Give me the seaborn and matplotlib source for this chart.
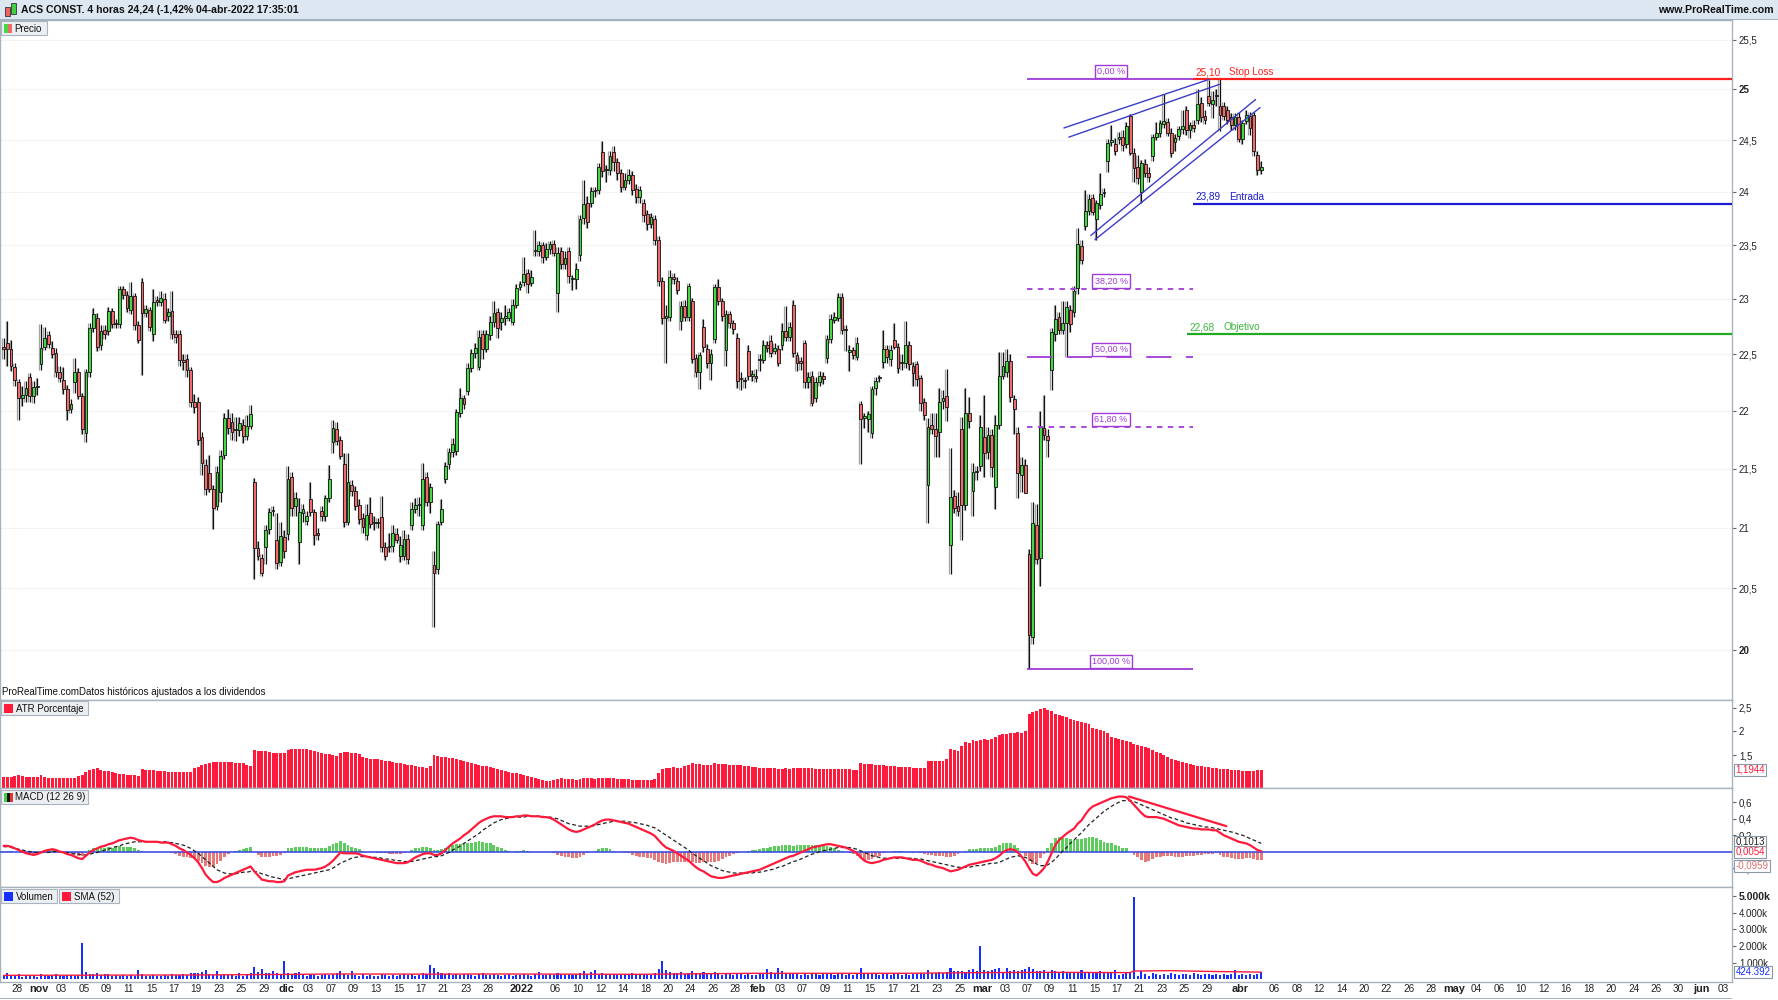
import numpy as np
import seaborn as sns
import matplotlib.pyplot as plt
from matplotlib.patches import Rectangle
from matplotlib.ticker import NullLocator

# ---------------- data (4 hour bars, ACS, 26-oct-2021 .. 04-abr-2022) ----------------
opens = [
    22.56, 22.60, 22.55, 22.39, 22.25, 22.11, 22.14, 22.30, 22.13, 22.21,
    22.41, 22.57, 22.67, 22.56, 22.51, 22.34, 22.27, 22.19, 22.02, 22.25,
    22.34, 22.13, 21.81, 22.34, 22.74, 22.83, 22.58, 22.72, 22.71, 22.89,
    22.78, 22.77, 23.09, 23.04, 22.90, 23.03, 22.76, 23.16, 22.87, 22.90,
    22.68, 22.99, 22.97, 23.00, 22.85, 22.89, 22.68, 22.68, 22.45, 22.46,
    22.36, 22.08, 22.08, 21.77, 21.53, 21.46, 21.33, 21.18, 21.30, 21.62,
    21.94, 21.90, 21.83, 21.83, 21.88, 21.78, 21.87, 21.39, 20.83, 20.75,
    20.84, 20.99, 21.14, 20.90, 20.72, 20.92, 20.95, 21.43, 21.18, 20.88,
    21.12, 21.06, 21.24, 21.13, 20.96, 21.14, 21.10, 21.25, 21.73, 21.84,
    21.75, 21.54, 21.05, 21.36, 21.31, 21.19, 21.08, 20.94, 21.12, 21.04,
    21.04, 21.09, 20.84, 20.84, 20.85, 20.95, 20.77, 20.77, 20.91, 21.02,
    21.16, 21.19, 21.02, 21.43, 21.22, 20.69, 20.66, 21.05, 21.41, 21.54,
    21.64, 21.65, 21.98, 22.11, 22.17, 22.38, 22.51, 22.39, 22.68, 22.55,
    22.67, 22.79, 22.88, 22.79, 22.83, 22.83, 22.79, 22.95, 23.11, 23.16,
    23.24, 23.15, 23.44, 23.44, 23.50, 23.39, 23.46, 23.51, 23.06, 23.44,
    23.32, 23.44, 23.18, 23.18, 23.41, 23.75, 23.90, 23.90, 24.01, 24.02,
    24.39, 24.21, 24.21, 24.39, 24.29, 24.18, 24.05, 24.12, 24.16, 24.03,
    23.95, 23.90, 23.79, 23.70, 23.74, 23.55, 23.17, 22.83, 22.84, 23.20,
    23.17, 22.80, 22.94, 22.84, 22.98, 22.47, 22.34, 22.75, 22.55, 22.42,
    22.64, 23.11, 22.98, 22.54, 22.86, 22.78, 22.65, 22.28, 22.27, 22.53,
    22.31, 22.31, 22.45, 22.45, 22.58, 22.62, 22.53, 22.55, 22.58, 22.71,
    22.66, 22.95, 22.49, 22.44, 22.60, 22.25, 22.31, 22.11, 22.25, 22.31,
    22.47, 22.64, 22.81, 22.83, 23.02, 22.72, 22.52, 22.54, 22.48, 22.06,
    21.94, 21.93, 21.81, 22.20, 22.29, 22.43, 22.55, 22.46, 22.63, 22.57,
    22.42, 22.42, 22.58, 22.40, 22.41, 22.29, 22.08, 21.36, 21.88, 21.84,
    21.82, 22.09, 22.13, 20.86, 21.27, 21.18, 21.84, 21.19, 21.98, 21.31,
    21.47, 21.52, 21.77, 21.64, 21.79, 21.34, 21.88, 22.31, 22.34, 22.44,
    22.10, 21.81, 21.45, 21.53, 20.78, 20.11, 21.02, 20.75, 21.85, 21.78,
    22.36, 22.68, 22.84, 22.72, 22.78, 22.90, 22.88, 23.10, 23.49, 23.68,
    23.82, 23.94, 23.74, 23.88, 23.99, 24.30, 24.48, 24.46, 24.51, 24.53,
    24.46, 24.74, 24.38, 24.24, 24.00, 24.27, 24.18, 24.35, 24.53, 24.57,
    24.66, 24.68, 24.57, 24.48, 24.54, 24.61, 24.80, 24.60, 24.65, 24.70,
    24.87, 24.74, 24.93, 24.86, 24.93, 24.84, 24.84, 24.80, 24.73, 24.65,
    24.73, 24.51, 24.69, 24.74, 24.75, 24.36, 24.21,
]
highs = [
    22.65, 22.80, 22.63, 22.42, 22.28, 22.22, 22.26, 22.33, 22.26, 22.29,
    22.77, 22.75, 22.71, 22.62, 22.56, 22.40, 22.39, 22.23, 22.10, 22.47,
    22.38, 22.16, 22.37, 22.78, 22.92, 22.87, 22.76, 22.76, 22.93, 22.92,
    22.82, 23.12, 23.12, 23.07, 23.16, 23.06, 22.80, 23.19, 22.95, 22.93,
    23.09, 23.03, 23.07, 23.06, 22.92, 23.07, 22.72, 22.72, 22.50, 22.50,
    22.39, 22.15, 22.12, 21.82, 21.58, 21.62, 21.36, 21.52, 21.66, 21.98,
    22.02, 21.98, 21.95, 21.95, 21.93, 21.96, 22.05, 21.42, 20.89, 20.78,
    21.02, 21.17, 21.18, 21.12, 21.05, 20.98, 21.52, 21.47, 21.30, 21.25,
    21.20, 21.14, 21.39, 21.16, 21.00, 21.18, 21.28, 21.53, 21.92, 21.90,
    21.78, 21.63, 21.63, 21.40, 21.35, 21.24, 21.12, 21.20, 21.26, 21.10,
    21.08, 21.27, 20.88, 20.96, 21.02, 21.00, 20.93, 20.98, 20.95, 21.22,
    21.25, 21.26, 21.55, 21.47, 21.38, 20.81, 21.06, 21.24, 21.56, 21.68,
    21.76, 22.02, 22.20, 22.14, 22.42, 22.55, 22.60, 22.72, 22.72, 22.72,
    22.85, 22.98, 22.92, 22.88, 22.95, 22.92, 23.00, 23.14, 23.17, 23.39,
    23.28, 23.27, 23.64, 23.54, 23.53, 23.52, 23.54, 23.55, 23.48, 23.48,
    23.44, 23.48, 23.22, 23.33, 23.78, 24.12, 23.96, 24.05, 24.05, 24.28,
    24.49, 24.26, 24.40, 24.44, 24.33, 24.22, 24.18, 24.22, 24.20, 24.08,
    24.06, 23.93, 23.83, 23.80, 23.78, 23.58, 23.20, 22.95, 23.27, 23.24,
    23.20, 22.98, 22.99, 23.15, 23.01, 22.50, 22.52, 22.82, 22.59, 22.55,
    23.14, 23.18, 23.01, 22.90, 22.89, 22.81, 22.69, 22.34, 22.30, 22.58,
    22.36, 22.37, 22.50, 22.63, 22.62, 22.67, 22.60, 22.58, 22.78, 22.94,
    22.79, 22.99, 22.52, 22.48, 22.63, 22.34, 22.35, 22.30, 22.35, 22.34,
    22.67, 22.86, 22.88, 23.06, 23.06, 22.76, 22.58, 22.57, 22.66, 22.09,
    21.98, 22.00, 22.22, 22.30, 22.32, 22.72, 22.58, 22.58, 22.78, 22.60,
    22.50, 22.80, 22.62, 22.43, 22.44, 22.32, 22.11, 21.94, 21.98, 21.98,
    22.20, 22.18, 22.37, 21.68, 21.32, 21.30, 21.95, 22.20, 22.12, 21.55,
    21.52, 21.96, 22.14, 21.86, 21.84, 21.96, 22.52, 22.52, 22.55, 22.50,
    22.14, 21.86, 21.60, 21.58, 20.82, 21.22, 21.20, 22.00, 22.14, 21.84,
    22.74, 22.95, 22.88, 22.98, 22.98, 22.95, 23.12, 23.66, 23.55, 24.02,
    23.98, 23.98, 23.92, 24.18, 24.04, 24.51, 24.65, 24.52, 24.58, 24.60,
    24.68, 24.76, 24.42, 24.36, 24.31, 24.32, 24.24, 24.56, 24.68, 24.70,
    24.95, 24.72, 24.62, 24.56, 24.64, 24.80, 24.84, 24.68, 24.70, 25.00,
    24.92, 24.80, 25.09, 24.98, 25.00, 25.10, 24.88, 24.84, 24.77, 24.77,
    24.78, 24.70, 24.80, 24.78, 24.78, 24.40, 24.30,
]
lows = [
    22.46, 22.40, 22.35, 22.22, 21.92, 22.04, 22.08, 22.08, 22.07, 22.14,
    22.36, 22.54, 22.56, 22.47, 22.30, 22.25, 22.15, 21.92, 21.98, 22.16,
    22.10, 21.80, 21.73, 22.30, 22.70, 22.53, 22.54, 22.64, 22.67, 22.74,
    22.74, 22.74, 23.00, 22.88, 22.86, 22.72, 22.60, 22.32, 22.84, 22.71,
    22.62, 22.94, 22.94, 22.78, 22.80, 22.64, 22.60, 22.40, 22.36, 22.30,
    22.03, 21.98, 21.70, 21.45, 21.28, 21.30, 20.99, 21.15, 21.22, 21.58,
    21.80, 21.75, 21.74, 21.78, 21.72, 21.75, 21.84, 20.58, 20.73, 20.60,
    20.70, 20.95, 21.10, 20.66, 20.68, 20.75, 20.90, 21.10, 21.10, 20.70,
    21.05, 21.02, 21.10, 20.86, 20.90, 21.06, 21.06, 21.22, 21.63, 21.70,
    21.58, 21.01, 21.02, 21.27, 21.15, 21.03, 20.96, 20.90, 21.00, 20.98,
    21.00, 20.80, 20.73, 20.80, 20.80, 20.87, 20.72, 20.73, 20.70, 20.98,
    21.12, 21.10, 20.98, 21.18, 21.12, 20.19, 20.62, 21.02, 21.38, 21.50,
    21.60, 21.62, 21.95, 22.02, 22.14, 22.34, 22.47, 22.36, 22.46, 22.52,
    22.63, 22.75, 22.65, 22.72, 22.76, 22.80, 22.76, 22.92, 23.08, 23.12,
    23.06, 23.12, 23.40, 23.40, 23.33, 23.36, 23.42, 23.40, 22.88, 23.28,
    23.28, 23.15, 23.08, 23.09, 23.35, 23.70, 23.66, 23.86, 23.95, 23.98,
    24.14, 24.10, 24.16, 24.20, 24.12, 24.00, 24.02, 24.08, 23.97, 23.90,
    23.90, 23.72, 23.64, 23.66, 23.50, 23.12, 22.77, 22.42, 22.80, 23.14,
    23.05, 22.72, 22.80, 22.80, 22.42, 22.30, 22.19, 22.52, 22.38, 22.27,
    22.60, 22.95, 22.80, 22.40, 22.74, 22.68, 22.20, 22.18, 22.20, 22.27,
    22.26, 22.25, 22.35, 22.42, 22.52, 22.48, 22.50, 22.40, 22.54, 22.62,
    22.62, 22.48, 22.35, 22.36, 22.20, 22.20, 22.04, 22.08, 22.22, 22.24,
    22.42, 22.60, 22.78, 22.80, 22.68, 22.53, 22.35, 22.46, 22.45, 21.54,
    21.85, 21.82, 21.76, 22.14, 22.25, 22.38, 22.42, 22.40, 22.55, 22.33,
    22.36, 22.38, 22.36, 22.22, 22.22, 22.00, 21.92, 21.04, 21.80, 21.60,
    21.60, 22.02, 21.91, 20.62, 21.12, 21.10, 20.90, 21.15, 21.85, 21.10,
    21.40, 21.48, 21.43, 21.58, 21.43, 21.16, 21.84, 22.28, 22.30, 22.08,
    21.80, 21.25, 21.30, 21.29, 19.85, 20.05, 20.70, 20.52, 21.75, 21.60,
    22.18, 22.62, 22.68, 22.68, 22.48, 22.70, 22.84, 23.05, 23.32, 23.64,
    23.78, 23.78, 23.55, 23.84, 23.95, 24.19, 24.44, 24.36, 24.46, 24.40,
    24.42, 24.36, 24.10, 24.08, 23.90, 24.14, 24.10, 24.30, 24.50, 24.53,
    24.62, 24.54, 24.34, 24.40, 24.50, 24.56, 24.55, 24.52, 24.58, 24.66,
    24.68, 24.66, 24.84, 24.72, 24.84, 24.59, 24.70, 24.66, 24.60, 24.60,
    24.48, 24.46, 24.66, 24.55, 24.35, 24.16, 24.17,
]
closes = [
    22.55, 22.55, 22.40, 22.27, 22.11, 22.14, 22.20, 22.13, 22.21, 22.21,
    22.56, 22.65, 22.59, 22.50, 22.34, 22.29, 22.19, 22.01, 22.06, 22.34,
    22.13, 21.84, 22.34, 22.74, 22.86, 22.57, 22.71, 22.68, 22.89, 22.77,
    22.77, 23.09, 23.04, 22.92, 23.03, 22.76, 22.63, 22.87, 22.91, 22.75,
    22.97, 22.97, 23.01, 22.81, 22.88, 22.68, 22.66, 22.45, 22.43, 22.36,
    22.08, 22.03, 21.75, 21.55, 21.33, 21.33, 21.17, 21.47, 21.61, 21.94,
    21.85, 21.82, 21.83, 21.89, 21.78, 21.87, 21.97, 20.83, 20.77, 20.63,
    20.98, 21.13, 21.15, 20.71, 20.93, 20.81, 21.41, 21.17, 21.25, 21.13,
    21.16, 21.10, 21.13, 20.94, 20.94, 21.10, 21.25, 21.41, 21.85, 21.74,
    21.61, 21.05, 21.39, 21.31, 21.18, 21.07, 21.01, 21.11, 21.03, 21.04,
    21.04, 20.84, 20.77, 20.85, 20.96, 20.90, 20.86, 20.91, 20.74, 21.16,
    21.19, 21.20, 21.41, 21.22, 21.34, 20.63, 21.03, 21.16, 21.52, 21.64,
    21.71, 21.99, 22.11, 22.06, 22.38, 22.51, 22.56, 22.66, 22.55, 22.68,
    22.79, 22.87, 22.74, 22.83, 22.83, 22.88, 22.95, 23.10, 23.14, 23.23,
    23.14, 23.20, 23.44, 23.50, 23.39, 23.46, 23.51, 23.43, 23.43, 23.32,
    23.38, 23.21, 23.18, 23.28, 23.74, 23.89, 23.72, 24.01, 24.02, 24.24,
    24.20, 24.21, 24.35, 24.29, 24.18, 24.05, 24.12, 24.16, 24.02, 23.95,
    24.02, 23.78, 23.70, 23.76, 23.55, 23.17, 22.83, 22.85, 23.20, 23.18,
    23.08, 22.94, 22.84, 23.12, 22.46, 22.34, 22.49, 22.57, 22.42, 22.50,
    23.11, 22.98, 22.85, 22.86, 22.78, 22.73, 22.26, 22.28, 22.26, 22.31,
    22.31, 22.29, 22.45, 22.58, 22.56, 22.51, 22.56, 22.42, 22.71, 22.66,
    22.75, 22.51, 22.42, 22.42, 22.25, 22.30, 22.07, 22.25, 22.31, 22.28,
    22.64, 22.82, 22.84, 23.02, 22.72, 22.72, 22.54, 22.49, 22.60, 21.93,
    21.94, 21.97, 22.19, 22.26, 22.29, 22.55, 22.48, 22.54, 22.57, 22.38,
    22.42, 22.58, 22.41, 22.33, 22.28, 22.07, 21.96, 21.86, 21.84, 21.78,
    22.08, 22.11, 22.03, 21.26, 21.17, 21.14, 21.19, 21.98, 21.91, 21.47,
    21.48, 21.86, 21.63, 21.79, 21.51, 21.88, 22.31, 22.40, 22.44, 22.12,
    22.02, 21.46, 21.53, 21.29, 20.12, 21.04, 20.74, 21.86, 21.79, 21.75,
    22.70, 22.82, 22.72, 22.78, 22.93, 22.77, 23.07, 23.51, 23.36, 23.82,
    23.93, 23.81, 23.90, 23.98, 24.00, 24.47, 24.50, 24.40, 24.53, 24.45,
    24.64, 24.38, 24.23, 24.13, 24.28, 24.18, 24.14, 24.53, 24.57, 24.67,
    24.69, 24.57, 24.38, 24.52, 24.61, 24.64, 24.60, 24.65, 24.62, 24.86,
    24.73, 24.70, 24.87, 24.90, 24.94, 24.75, 24.74, 24.70, 24.65, 24.73,
    24.51, 24.67, 24.75, 24.62, 24.40, 24.21, 24.24,
]
atr_pct = [
    1.04, 1.05, 1.05, 1.07, 1.08, 1.06, 1.05, 1.04, 1.04, 1.05,
    1.08, 1.04, 1.03, 1.03, 1.02, 1.02, 1.01, 1.02, 1.02, 1.03,
    1.06, 1.09, 1.15, 1.19, 1.21, 1.22, 1.18, 1.17, 1.16, 1.15,
    1.12, 1.11, 1.10, 1.09, 1.09, 1.08, 1.07, 1.20, 1.19, 1.18,
    1.18, 1.17, 1.16, 1.16, 1.15, 1.15, 1.15, 1.15, 1.14, 1.14,
    1.15, 1.22, 1.25, 1.30, 1.32, 1.34, 1.35, 1.36, 1.36, 1.36,
    1.35, 1.35, 1.34, 1.34, 1.33, 1.30, 1.27, 1.60, 1.59, 1.58,
    1.58, 1.56, 1.55, 1.55, 1.54, 1.54, 1.60, 1.62, 1.63, 1.64,
    1.63, 1.62, 1.60, 1.58, 1.56, 1.55, 1.53, 1.52, 1.50, 1.48,
    1.55, 1.56, 1.56, 1.55, 1.54, 1.53, 1.46, 1.44, 1.43, 1.42,
    1.41, 1.40, 1.38, 1.37, 1.36, 1.34, 1.33, 1.31, 1.30, 1.29,
    1.28, 1.26, 1.25, 1.24, 1.27, 1.50, 1.49, 1.47, 1.46, 1.45,
    1.44, 1.42, 1.40, 1.38, 1.36, 1.34, 1.32, 1.30, 1.28, 1.27,
    1.25, 1.23, 1.21, 1.19, 1.17, 1.15, 1.13, 1.12, 1.10, 1.08,
    1.06, 1.04, 1.02, 1.00, 0.98, 0.96, 0.95, 0.98, 1.00, 1.01,
    1.00, 0.99, 0.99, 0.98, 1.00, 1.02, 1.02, 1.01, 1.00, 1.02,
    1.03, 1.02, 1.02, 1.01, 1.00, 1.00, 0.99, 0.99, 0.98, 0.98,
    0.97, 0.98, 0.98, 0.97, 1.00, 1.12, 1.20, 1.22, 1.24, 1.25,
    1.24, 1.23, 1.28, 1.30, 1.33, 1.32, 1.31, 1.30, 1.30, 1.29,
    1.33, 1.32, 1.31, 1.31, 1.30, 1.29, 1.30, 1.29, 1.28, 1.27,
    1.26, 1.25, 1.24, 1.24, 1.23, 1.22, 1.22, 1.21, 1.21, 1.22,
    1.21, 1.24, 1.23, 1.22, 1.23, 1.22, 1.22, 1.21, 1.20, 1.20,
    1.21, 1.21, 1.20, 1.20, 1.21, 1.20, 1.20, 1.19, 1.18, 1.33,
    1.32, 1.31, 1.32, 1.30, 1.29, 1.29, 1.28, 1.27, 1.27, 1.26,
    1.25, 1.26, 1.25, 1.24, 1.24, 1.24, 1.23, 1.38, 1.37, 1.37,
    1.38, 1.37, 1.42, 1.62, 1.60, 1.58, 1.70, 1.78, 1.76, 1.82,
    1.80, 1.82, 1.84, 1.82, 1.83, 1.88, 1.93, 1.94, 1.95, 1.97,
    1.96, 1.98, 1.97, 2.00, 2.36, 2.41, 2.42, 2.48, 2.49, 2.45,
    2.42, 2.36, 2.34, 2.32, 2.30, 2.26, 2.24, 2.22, 2.20, 2.18,
    2.16, 2.08, 2.05, 2.02, 2.00, 1.97, 1.88, 1.86, 1.84, 1.82,
    1.80, 1.78, 1.74, 1.71, 1.69, 1.67, 1.65, 1.61, 1.57, 1.54,
    1.50, 1.47, 1.43, 1.40, 1.38, 1.35, 1.33, 1.32, 1.29, 1.28,
    1.27, 1.26, 1.25, 1.23, 1.22, 1.21, 1.20, 1.20, 1.19, 1.18,
    1.18, 1.17, 1.17, 1.16, 1.16, 1.19, 1.19,
]
macd_line = [
    0.07, 0.07, 0.06, 0.04, 0.02, 0.00, -0.02, -0.03, -0.04, -0.03,
    -0.01, 0.01, 0.02, 0.03, 0.02, 0.00, -0.01, -0.03, -0.04, -0.06,
    -0.08, -0.09, -0.05, -0.01, 0.02, 0.04, 0.06, 0.07, 0.09, 0.10,
    0.12, 0.14, 0.15, 0.16, 0.17, 0.16, 0.14, 0.13, 0.12, 0.12,
    0.12, 0.12, 0.11, 0.11, 0.11, 0.09, 0.07, 0.04, 0.02, -0.01,
    -0.04, -0.08, -0.13, -0.20, -0.28, -0.33, -0.37, -0.37, -0.35, -0.32,
    -0.30, -0.28, -0.26, -0.24, -0.22, -0.20, -0.18, -0.24, -0.29, -0.34,
    -0.35, -0.36, -0.36, -0.37, -0.37, -0.36, -0.29, -0.27, -0.25, -0.24,
    -0.23, -0.22, -0.22, -0.22, -0.21, -0.20, -0.18, -0.15, -0.11, -0.06,
    -0.01, -0.02, -0.02, -0.02, -0.02, -0.03, -0.05, -0.06, -0.07, -0.08,
    -0.09, -0.10, -0.11, -0.12, -0.13, -0.14, -0.14, -0.14, -0.13, -0.10,
    -0.07, -0.05, -0.03, -0.02, -0.02, -0.04, -0.04, -0.02, 0.02, 0.06,
    0.10, 0.13, 0.16, 0.20, 0.23, 0.27, 0.31, 0.35, 0.38, 0.40,
    0.42, 0.43, 0.43, 0.43, 0.42, 0.42, 0.42, 0.43, 0.43, 0.44,
    0.44, 0.43, 0.43, 0.43, 0.42, 0.42, 0.41, 0.39, 0.36, 0.33,
    0.30, 0.27, 0.25, 0.24, 0.25, 0.27, 0.29, 0.31, 0.33, 0.36,
    0.38, 0.39, 0.39, 0.38, 0.37, 0.36, 0.35, 0.34, 0.32, 0.30,
    0.28, 0.26, 0.24, 0.22, 0.19, 0.14, 0.09, 0.05, 0.03, 0.01,
    -0.02, -0.05, -0.08, -0.11, -0.15, -0.19, -0.22, -0.24, -0.27, -0.30,
    -0.31, -0.32, -0.32, -0.31, -0.30, -0.29, -0.28, -0.27, -0.26, -0.25,
    -0.24, -0.23, -0.22, -0.20, -0.18, -0.16, -0.14, -0.12, -0.10, -0.08,
    -0.06, -0.05, -0.03, -0.01, 0.01, 0.03, 0.05, 0.06, 0.07, 0.08,
    0.09, 0.09, 0.08, 0.07, 0.06, 0.05, 0.03, 0.01, -0.02, -0.07,
    -0.11, -0.13, -0.14, -0.13, -0.12, -0.10, -0.09, -0.08, -0.07, -0.07,
    -0.07, -0.08, -0.09, -0.10, -0.10, -0.11, -0.13, -0.15, -0.16, -0.18,
    -0.19, -0.20, -0.22, -0.24, -0.23, -0.22, -0.20, -0.18, -0.16, -0.15,
    -0.14, -0.13, -0.12, -0.11, -0.10, -0.08, -0.05, -0.01, 0.02, 0.03,
    0.02, -0.01, -0.06, -0.12, -0.20, -0.27, -0.29, -0.25, -0.20, -0.12,
    -0.02, 0.08, 0.14, 0.18, 0.22, 0.25, 0.28, 0.34, 0.38, 0.45,
    0.51, 0.55, 0.57, 0.59, 0.61, 0.63, 0.65, 0.66, 0.67, 0.67,
    0.66, 0.62, 0.57, 0.52, 0.47, 0.43, 0.42, 0.42, 0.42, 0.41,
    0.40, 0.38, 0.36, 0.34, 0.32, 0.31, 0.30, 0.29, 0.28, 0.28,
    0.27, 0.27, 0.27, 0.26, 0.26, 0.23, 0.20, 0.18, 0.16, 0.14,
    0.12, 0.11, 0.10, 0.08, 0.05, 0.02, 0.0054,
]
macd_signal = [
    0.06, 0.06, 0.05, 0.04, 0.03, 0.02, 0.01, 0.00, -0.01, -0.01,
    -0.01, -0.01, -0.01, 0.00, 0.00, 0.00, -0.01, -0.01, -0.02, -0.03,
    -0.03, -0.04, -0.04, -0.03, -0.02, -0.01, 0.00, 0.02, 0.03, 0.05,
    0.06, 0.07, 0.09, 0.10, 0.11, 0.12, 0.12, 0.12, 0.12, 0.12,
    0.12, 0.12, 0.12, 0.12, 0.11, 0.11, 0.10, 0.09, 0.08, 0.06,
    0.04, 0.01, -0.02, -0.06, -0.10, -0.14, -0.18, -0.22, -0.24, -0.26,
    -0.27, -0.27, -0.27, -0.26, -0.25, -0.25, -0.24, -0.24, -0.25, -0.27,
    -0.28, -0.30, -0.31, -0.32, -0.33, -0.34, -0.33, -0.32, -0.31, -0.30,
    -0.29, -0.28, -0.27, -0.26, -0.25, -0.24, -0.23, -0.22, -0.20, -0.17,
    -0.14, -0.12, -0.10, -0.08, -0.07, -0.06, -0.06, -0.06, -0.06, -0.07,
    -0.07, -0.08, -0.09, -0.09, -0.10, -0.11, -0.11, -0.12, -0.12, -0.12,
    -0.11, -0.10, -0.09, -0.08, -0.07, -0.06, -0.06, -0.05, -0.03, -0.01,
    0.02, 0.04, 0.07, 0.10, 0.13, 0.16, 0.19, 0.22, 0.26, 0.29,
    0.32, 0.35, 0.37, 0.39, 0.40, 0.41, 0.42, 0.42, 0.42, 0.42,
    0.43, 0.43, 0.43, 0.43, 0.43, 0.42, 0.42, 0.41, 0.40, 0.38,
    0.36, 0.34, 0.33, 0.32, 0.31, 0.31, 0.31, 0.31, 0.32, 0.33,
    0.34, 0.35, 0.36, 0.37, 0.37, 0.37, 0.37, 0.36, 0.36, 0.35,
    0.34, 0.33, 0.32, 0.30, 0.29, 0.26, 0.23, 0.20, 0.17, 0.14,
    0.11, 0.08, 0.05, 0.02, -0.02, -0.05, -0.08, -0.11, -0.14, -0.17,
    -0.19, -0.21, -0.23, -0.24, -0.25, -0.26, -0.26, -0.26, -0.26, -0.26,
    -0.26, -0.25, -0.25, -0.24, -0.23, -0.22, -0.21, -0.19, -0.18, -0.16,
    -0.14, -0.12, -0.11, -0.09, -0.07, -0.05, -0.03, -0.02, 0.00, 0.01,
    0.02, 0.03, 0.04, 0.05, 0.05, 0.05, 0.05, 0.04, 0.03, 0.01,
    -0.01, -0.03, -0.05, -0.06, -0.07, -0.08, -0.08, -0.08, -0.08, -0.08,
    -0.08, -0.08, -0.08, -0.08, -0.09, -0.09, -0.10, -0.11, -0.12, -0.13,
    -0.14, -0.15, -0.16, -0.17, -0.18, -0.19, -0.19, -0.19, -0.19, -0.18,
    -0.17, -0.17, -0.16, -0.15, -0.14, -0.14, -0.13, -0.11, -0.09, -0.07,
    -0.06, -0.05, -0.06, -0.07, -0.09, -0.12, -0.15, -0.17, -0.17, -0.16,
    -0.13, -0.09, -0.04, 0.01, 0.05, 0.10, 0.14, 0.19, 0.23, 0.28,
    0.33, 0.37, 0.41, 0.45, 0.49, 0.52, 0.55, 0.58, 0.60, 0.62,
    0.62, 0.62, 0.61, 0.59, 0.57, 0.55, 0.53, 0.51, 0.49, 0.47,
    0.45, 0.43, 0.41, 0.40, 0.38, 0.37, 0.35, 0.34, 0.33, 0.32,
    0.31, 0.30, 0.30, 0.29, 0.28, 0.27, 0.26, 0.25, 0.24, 0.23,
    0.21, 0.20, 0.18, 0.16, 0.14, 0.12, 0.1013,
]
volume_m = [
    0.22, 0.35, 0.18, 0.25, 0.30, 0.16, 0.20, 0.28, 0.22, 0.15,
    0.30, 0.24, 0.19, 0.26, 0.33, 0.21, 0.17, 0.28, 0.24, 0.20,
    0.26, 2.20, 0.45, 0.32, 0.30, 0.36, 0.28, 0.33, 0.30, 0.22,
    0.26, 0.20, 0.24, 0.18, 0.28, 0.22, 0.55, 0.30, 0.22, 0.19,
    0.25, 0.18, 0.22, 0.27, 0.20, 0.30, 0.24, 0.28, 0.33, 0.25,
    0.38, 0.40, 0.35, 0.45, 0.55, 0.30, 0.28, 0.50, 0.26, 0.32,
    0.24, 0.30, 0.22, 0.35, 0.20, 0.26, 0.40, 0.72, 0.45, 0.60,
    0.40, 0.35, 0.50, 0.38, 0.30, 1.10, 0.40, 0.28, 0.35, 0.45,
    0.25, 0.22, 0.30, 0.26, 0.20, 0.28, 0.33, 0.24, 0.30, 0.36,
    0.50, 0.30, 0.26, 0.50, 0.28, 0.22, 0.30, 0.20, 0.26, 0.22,
    0.18, 0.30, 0.24, 0.20, 0.28, 0.22, 0.26, 0.30, 0.24, 0.34,
    0.22, 0.28, 0.36, 0.30, 0.86, 0.70, 0.42, 0.35, 0.30, 0.38,
    0.28, 0.32, 0.25, 0.30, 0.34, 0.26, 0.22, 0.30, 0.35, 0.24,
    0.28, 0.32, 0.26, 0.20, 0.26, 0.30, 0.22, 0.28, 0.24, 0.30,
    0.26, 0.22, 0.30, 0.45, 0.28, 0.24, 0.30, 0.26, 0.38, 0.30,
    0.26, 0.34, 0.28, 0.30, 0.36, 0.50, 0.30, 0.42, 0.55, 0.32,
    0.40, 0.28, 0.34, 0.30, 0.26, 0.32, 0.28, 0.24, 0.36, 0.30,
    0.28, 0.34, 0.30, 0.26, 0.40, 0.62, 1.10, 0.55, 0.45, 0.35,
    0.40, 0.42, 0.30, 0.36, 0.48, 0.40, 0.35, 0.42, 0.38, 0.30,
    0.45, 0.32, 0.28, 0.38, 0.30, 0.26, 0.40, 0.30, 0.26, 0.32,
    0.28, 0.24, 0.30, 0.36, 0.60, 0.45, 0.40, 0.68, 0.50, 0.34,
    0.30, 0.38, 0.32, 0.26, 0.34, 0.28, 0.36, 0.30, 0.26, 0.32,
    0.34, 0.30, 0.26, 0.32, 0.36, 0.28, 0.30, 0.26, 0.34, 0.66,
    0.40, 0.35, 0.38, 0.30, 0.28, 0.34, 0.30, 0.26, 0.32, 0.36,
    0.28, 0.30, 0.26, 0.32, 0.30, 0.36, 0.34, 0.55, 0.40, 0.36,
    0.42, 0.38, 0.45, 0.70, 0.48, 0.52, 0.50, 0.45, 0.55, 0.60,
    0.52, 2.00, 0.58, 0.50, 0.56, 0.62, 0.66, 0.40, 0.66, 0.52,
    0.58, 0.50, 0.56, 0.62, 0.76, 0.62, 0.52, 0.48, 0.56, 0.44,
    0.58, 0.52, 0.44, 0.50, 0.36, 0.44, 0.36, 0.40, 0.56, 0.36,
    0.40, 0.36, 0.44, 0.48, 0.40, 0.36, 0.42, 0.58, 0.28, 0.32,
    0.40, 0.44, 4.95, 0.18, 0.50, 0.32, 0.17, 0.36, 0.30, 0.27,
    0.32, 0.28, 0.36, 0.30, 0.26, 0.34, 0.30, 0.28, 0.36, 0.30,
    0.26, 0.30, 0.34, 0.28, 0.30, 0.24, 0.32, 0.26, 0.30, 0.56,
    0.28, 0.30, 0.26, 0.30, 0.28, 0.30, 0.424,
]
# SMA(52) of volume, read at its vertices
sma_bars = [0, 50, 67, 90, 114, 130, 170, 200, 240, 261, 280, 301, 302, 312, 320, 336]
sma_vals = [0.24, 0.26, 0.28, 0.32, 0.31, 0.32, 0.30, 0.36, 0.36, 0.40, 0.42, 0.40, 0.50, 0.52, 0.48, 0.43]

# fibonacci retracement between the high and the low
fib_high, fib_low = 25.10, 19.85
fib_ratios = [0.0, 0.382, 0.5, 0.618, 1.0]
fib_names = ["0,00 %", "38,20 %", "50,00 %", "61,80 %", "100,00 %"]
fib_span = [273.4, 317.8]
fib_label_bar = 295.9

# trade levels
level_vals = [25.10, 23.89, 22.68]
level_texts = ["25,10", "23,89", "22,68"]
level_names = ["Stop Loss", "Entrada", "Objetivo"]
level_start = [317.8, 317.8, 316.2]

# rising wedge lines (bar, price, bar, price)
wedge_lines = [
    (283.3, 24.62, 322.1, 25.10),
    (284.6, 24.53, 324.8, 25.05),
    (290.5, 23.59, 334.5, 24.90),
    (291.6, 23.55, 335.7, 24.82),
]
macd_trend_bars = [300.7, 326.7]
macd_trend_vals = [0.67, 0.31]

# date axis: trading-day index (28-oct = 0) and label
tick_days = [0, 2, 4, 6, 8, 10, 12, 14, 16, 18, 20, 22, 24, 26, 28, 30, 32, 34, 36, 38,
             40, 42, 45, 48, 50, 52, 54, 56, 58, 60, 62, 64, 66, 68, 70, 72, 74, 76, 78,
             80, 82, 84, 86, 88, 90, 92, 94, 96, 98, 100, 102, 104, 106, 109, 112, 114,
             116, 118, 120, 122, 124, 126, 128, 130, 132, 134, 136, 138, 140, 142, 144,
             146, 148, 150, 152]
tick_labels = ["28", "nov", "03", "05", "09", "11", "15", "17", "19", "23", "25", "29",
               "dic", "03", "07", "09", "13", "15", "17", "21", "23", "28", "2022", "06",
               "10", "12", "14", "18", "20", "24", "26", "28", "feb", "03", "07", "09",
               "11", "15", "17", "21", "23", "25", "mar", "03", "07", "09", "11", "15",
               "17", "21", "23", "25", "29", "abr", "06", "08", "12", "14", "20", "22",
               "26", "28", "may", "04", "06", "10", "12", "16", "18", "20", "24", "26",
               "30", "jun", "03"]
bold_labels = ["nov", "dic", "2022", "feb", "mar", "abr", "may", "jun"]

price_ticks = [20, 20.5, 21, 21.5, 22, 22.5, 23, 23.5, 24, 24.5, 25, 25.5]
atr_ticks = [1.5, 2, 2.5]
macd_ticks = [-0.2, 0.2, 0.4, 0.6]
vol_ticks = [1, 2, 3, 4, 5]
vol_tick_labels = ["1.000k", "2.000k", "3.000k", "4.000k", "5.000k"]

title = "ACS CONST. 4 horas 24,24 (-1,42% 04-abr-2022 17:35:01"

# ---------------- style ----------------
sns.set_theme(style="white")
plt.rcParams['font.family'] = ['Liberation Sans', 'DejaVu Sans']

GREEN = '#46d646'
RED = '#ef6b6b'
PURPLE = '#a03ad8'
ATR_RED = '#ff1a3c'
BLUE = '#1630ff'
EDGE = '#a9b3bd'

o = np.array(opens)
hi = np.array(highs)
lo = np.array(lows)
c = np.array(closes)
x = np.arange(len(c))

W, H, RIGHT = 1778.0, 1000.0, 1732.0
XMIN, XMAX = -0.96, 461.8

fig = plt.figure(figsize=(17.78, 10), dpi=100)
fig.patch.set_facecolor('white')


def panel(top, bottom):
    return fig.add_axes([0, 1 - bottom / H, RIGHT / W, (bottom - top) / H])


def box(x0, y0, w, h, **kw):
    fig.add_artist(Rectangle((x0 / W, 1 - (y0 + h) / H), w / W, h / H,
                             transform=fig.transFigure, **kw))


def ftext(x0, y0, s, **kw):
    fig.text(x0 / W, 1 - y0 / H, s, **kw)


def fmt(v):
    return f"{v:g}".replace('.', ',')


ax_p = panel(20, 700)
ax_a = panel(700, 788)
ax_m = panel(788, 887)
ax_v = panel(887, 982)

for ax in [ax_p, ax_a, ax_m, ax_v]:
    ax.set_xlim(XMIN, XMAX)
    ax.set_facecolor('white')
    for s in ax.spines.values():
        s.set_color(EDGE)
        s.set_linewidth(1.0)
    ax.yaxis.tick_right()
    ax.tick_params(axis='y', which='major', right=True, left=False, direction='out',
                   length=3, width=0.8, color='#666666', labelsize=7, pad=2,
                   labelcolor='#222222')
    ax.tick_params(axis='x', bottom=False, labelbottom=False)

# ---- price panel ----
ax_p.set_yscale('log')
ax_p.set_ylim(19.61, 25.70)
ax_p.set_yticks(price_ticks, [fmt(v) for v in price_ticks])
ax_p.yaxis.set_minor_locator(NullLocator())
for lbl in ax_p.get_yticklabels():
    if lbl.get_text() in ("20", "25"):
        lbl.set_fontweight('bold')
for v in price_ticks:
    ax_p.axhline(v, color='#f4f4f4', lw=0.8, zorder=0)

up = c >= o
body_lo = np.minimum(o, c)
body_h = np.maximum(np.abs(c - o), 0.012)
ax_p.vlines(x - 0.42, lo, hi, color='#a3a3a3', lw=0.9, zorder=2)
ax_p.vlines(x, lo, hi, color='#111111', lw=0.9, zorder=3)
ax_p.bar(x, body_h, bottom=body_lo, width=0.74, color=np.where(up, GREEN, RED),
         edgecolor='#111111', linewidth=0.6, zorder=4)

# fibonacci
fib_styles = ['-', (0, (3, 3)), (0, (14, 8)), (0, (3, 3)), '-']
for r, name, ls in zip(fib_ratios, fib_names, fib_styles):
    lvl = fib_high - r * (fib_high - fib_low)
    ax_p.hlines(lvl, fib_span[0], fib_span[1], color=PURPLE, lw=1.3, linestyles=ls, zorder=5)
    ax_p.annotate(name, (fib_label_bar, lvl), xytext=(0, 2.4), textcoords='offset points',
                  ha='center', va='bottom', fontsize=6.5, color=PURPLE, zorder=6,
                  bbox=dict(boxstyle='square,pad=0.25', fc='white', ec=PURPLE, lw=1.0))

# trade levels
level_colors = ['#ff2020', '#1c1cd0', '#22aa22']
level_text_colors = ['#ff2020', '#1c1cd0', '#3cb43c']
for v, t, n, s, col, tcol in zip(level_vals, level_texts, level_names, level_start,
                                 level_colors, level_text_colors):
    ax_p.hlines(v, s, XMAX, color=col, lw=1.6, zorder=5)
    ax_p.annotate(t, (s, v), xytext=(1.5, 1.5), textcoords='offset points',
                  ha='left', va='bottom', fontsize=7.2, color=tcol)
    ax_p.annotate(n, (s, v), xytext=(26, 1.5), textcoords='offset points',
                  ha='left', va='bottom', fontsize=7.2, color=tcol)

# wedge
for x0, y0, x1, y1 in wedge_lines:
    sns.lineplot(x=[x0, x1], y=[y0, y1], ax=ax_p, color='#3b3bc8', lw=1.0, zorder=5)

# ---- ATR panel ----
ax_a.bar(x, atr_pct, width=0.78, color=ATR_RED, linewidth=0)
ax_a.set_ylim(0.81, 2.66)
ax_a.set_yticks(atr_ticks, [fmt(v) for v in atr_ticks])

# ---- MACD panel ----
mac = np.array(macd_line)
sig = np.array(macd_signal)
hist = mac - sig
ax_m.bar(x, hist, width=0.75, color=np.where(hist >= 0, '#5ccc5c', '#e67a7a'), linewidth=0)
ax_m.axhline(0, color='#3142e6', lw=1.1, zorder=3)
sns.lineplot(x=x, y=sig, ax=ax_m, color='#222222', lw=0.9, linestyle=(0, (3, 2)), zorder=4)
sns.lineplot(x=x, y=mac, ax=ax_m, color=ATR_RED, lw=1.6, zorder=5)
sns.lineplot(x=macd_trend_bars, y=macd_trend_vals, ax=ax_m, color=ATR_RED, lw=1.6, zorder=5)
ax_m.set_ylim(-0.43, 0.774)
ax_m.set_yticks(macd_ticks, [fmt(v) for v in macd_ticks])

# ---- volume panel ----
ax_v.bar(x, volume_m, width=0.55, color=BLUE, linewidth=0)
sns.lineplot(x=sma_bars, y=sma_vals, ax=ax_v, color=ATR_RED, lw=1.0, zorder=4)
ax_v.set_ylim(-0.16, 5.53)
ax_v.set_yticks(vol_ticks, vol_tick_labels)
for lbl in ax_v.get_yticklabels():
    if lbl.get_text() == "5.000k":
        lbl.set_fontweight('bold')
        lbl.set_fontsize(7.5)

tick_u = [3 * d + 3.5 for d in tick_days]
ax_v.set_xticks(tick_u, tick_labels)
ax_v.tick_params(axis='x', which='major', bottom=False, labelbottom=True, length=0,
                 labelsize=7.2, pad=1.5, labelcolor='#222222')
for lbl in ax_v.get_xticklabels():
    if lbl.get_text() in bold_labels:
        lbl.set_fontweight('bold')
        lbl.set_fontsize(7.8)

for ax in [ax_p, ax_a, ax_m, ax_v]:
    ax.set_xlabel('')
    ax.set_ylabel('')


# value tags on the right scale
def tag(ax, y, text, color, dy=0):
    ax.annotate(text, xy=(1.0, y), xycoords=ax.get_yaxis_transform(), xytext=(2.5, dy),
                textcoords='offset points', ha='left', va='center', fontsize=7, color=color,
                annotation_clip=False, zorder=20,
                bbox=dict(boxstyle='square,pad=0.12', fc='white', ec='#8a99a8', lw=0.8))


tag(ax_a, 1.1944, '1,1944', ATR_RED)
tag(ax_m, 0.1013, '0,1013', '#222222', dy=1)
tag(ax_m, 0.0054, '0,0054', ATR_RED, dy=-0.5)
tag(ax_m, -0.0959, '-0,0959', '#e07070', dy=-4.5)
tag(ax_v, 0.424392, '424.392', BLUE)

# ---- title bar and panel captions ----
box(0, 0, W, 19, fc='#dce7f2', ec='none')
box(0, 19, W, 1, fc='#9fb2c4', ec='none')
box(5, 7, 5, 9, fc='#ef6262', ec='#333333', lw=0.6)
box(11, 3, 5, 11, fc='#40d040', ec='#333333', lw=0.6)
ftext(21, 10, title, fontsize=7.6, fontweight='bold', va='center', color='#111111')
ftext(1774, 10, 'www.ProRealTime.com', fontsize=7.6, fontweight='bold', va='center',
      ha='right', color='#111111')

box(1, 21, 46, 14, fc='#eceff2', ec='#aab4be', lw=0.8)
box(4, 24, 4, 9, fc=GREEN, ec='none')
box(8, 24, 4, 9, fc=RED, ec='none')
ftext(14, 28.5, 'Precio', fontsize=7, va='center', color='#111111')

ftext(2, 692, 'ProRealTime.comDatos históricos ajustados a los dividendos', fontsize=7,
      va='center', color='#111111')

box(1, 701, 87, 14, fc='#eceff2', ec='#aab4be', lw=0.8)
box(4, 704, 9, 9, fc=ATR_RED, ec='none')
ftext(16, 708.5, 'ATR Porcentaje', fontsize=7, va='center', color='#111111')

box(1, 790, 87, 14, fc='#eceff2', ec='#aab4be', lw=0.8)
box(4, 793, 3, 9, fc='#3fcf3f', ec='none')
box(7, 793, 3, 9, fc='#111111', ec='none')
box(10, 793, 3, 9, fc='#e33333', ec='none')
ftext(15, 797.5, 'MACD (12 26 9)', fontsize=7, va='center', color='#111111')

box(1, 889, 56, 14, fc='#eceff2', ec='#aab4be', lw=0.8)
box(4, 892, 9, 9, fc=BLUE, ec='none')
ftext(16, 896.5, 'Volumen', fontsize=7, va='center', color='#111111')
box(59, 889, 60, 14, fc='#eceff2', ec='#aab4be', lw=0.8)
box(62, 892, 9, 9, fc=ATR_RED, ec='none')
ftext(74, 896.5, 'SMA (52)', fontsize=7, va='center', color='#111111')

box(0, 998, RIGHT, 1, fc=EDGE, ec='none')

fig.savefig('out.png', dpi=100, facecolor='white')
